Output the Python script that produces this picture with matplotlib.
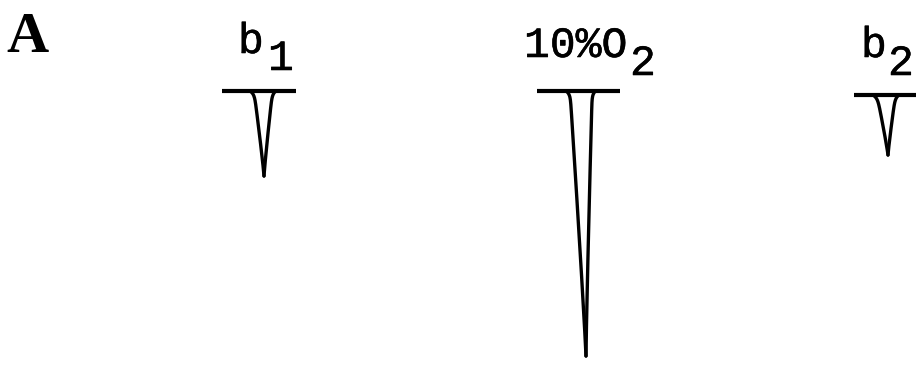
import numpy as np
import matplotlib
matplotlib.use("Agg")
import matplotlib.pyplot as plt
import matplotlib.patheffects as pe

# Recorded responses: baseline, then one deflection per trial
labels = ["b", "10%O", "b"]
subscripts = ["1", "2", "2"]
depths = [85, 265, 60]          # deflection amplitude (chart units)
tip_shift = [0, 4, 1]           # lateral drift of the pen at the tip

# Layout of each trace on the sheet (chart units, y grows downward)
base_y = [91, 91, 95]
base_x0 = [222, 537, 854]
base_x1 = [296, 620, 916]
spike_x = [264, 582, 887]
half_w = [10, 12, 10]

fig = plt.figure(figsize=(9.16, 3.65), dpi=100)
ax = fig.add_axes([0, 0, 1, 1])
ax.set_xlim(0, 916)
ax.set_ylim(365, 0)
ax.axis("off")

lw = 2.4
s = np.linspace(0, 1, 300)
for i in range(3):
    y0 = base_y[i]
    ax.plot([base_x0[i], base_x1[i]], [y0, y0], color="black", lw=lw + 0.6,
            solid_capstyle="butt")
    depth = depths[i]
    y = y0 + depth * s
    dy = depth * s
    # half width narrows toward the tip, with a rounded shoulder at the top
    h = half_w[i] * (1 - s) ** 1.1 + 4 * np.exp(-dy / 3.0)
    xc = spike_x[i] + tip_shift[i] * s
    ax.plot(xc - h, y, color="black", lw=lw, solid_capstyle="round")
    ax.plot(xc + h * 0.85, y, color="black", lw=lw, solid_capstyle="round")

# Panel letter
ax.text(6, 52, "A", fontsize=42, fontweight="bold", family="Liberation Serif",
        ha="left", va="baseline")

mono = "Liberation Mono"
fs = 31
heavy = [pe.withStroke(linewidth=0.4, foreground="black")]
kw = dict(fontsize=fs, family=mono, ha="left", va="baseline", path_effects=heavy)
# b1
ax.text(238, 53, labels[0], **kw)
ax.text(268, 70, subscripts[0], **kw)
# 10%O2
ax.text(524, 57, labels[1], **kw)
ax.text(630, 75, subscripts[1], **kw)
# b2
ax.text(861, 57, labels[2], **kw)
ax.text(888, 75, subscripts[2], **kw)

fig.savefig("out.png", dpi=100, facecolor="white")
